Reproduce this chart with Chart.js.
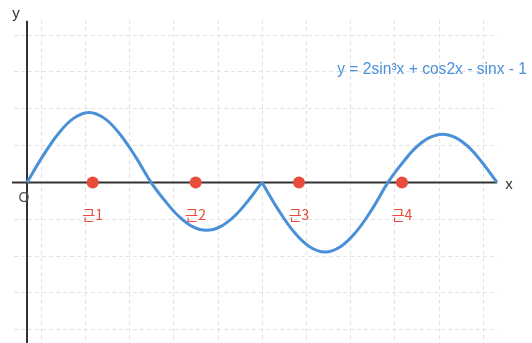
<!DOCTYPE html>
<html><head><meta charset="utf-8">
<script src="https://cdn.jsdelivr.net/npm/chart.js@4/dist/chart.umd.min.js"></script>
<style>html,body{margin:0;padding:0;background:#fff;overflow:hidden}canvas{display:block}</style>
</head><body><canvas id="c" width="532" height="343" style="width:532px;height:343px"></canvas>
<script>
// Curve (x in radians, y in grid units), split at the cusp x = π
const leftX  = [0, 0.207, 0.414, 0.622, 0.829, 1.036, 1.243, 1.450, 1.658, 1.844, 2.029, 2.214, 2.400, 2.586, 2.772, 2.956, 3.142];
const leftY  = [0, 0.70, 1.31, 1.74, 1.90, 1.74, 1.31, 0.70, 0, -0.50, -0.92, -1.20, -1.30, -1.20, -0.92, -0.50, 0];
const rightX = [3.142, 3.352, 3.563, 3.773, 3.984, 4.195, 4.405, 4.616, 4.826, 5.008, 5.190, 5.373, 5.555, 5.737, 5.919, 6.101, 6.283];
const rightY = [0, -0.72, -1.33, -1.74, -1.89, -1.74, -1.33, -0.72, 0, 0.50, 0.93, 1.21, 1.31, 1.21, 0.93, 0.50, 0];
// Roots (red dots)
const rootX = [0.878, 2.255, 3.636, 5.013];
const rootLabels = ['근1', '근2', '근3', '근4'];
const titleText = 'y = 2sin³x + cos2x - sinx - 1';
// Axis extents
const xAxisRange = [-0.2, 6.283];
const yAxisRange = [-4.4, 4.39];
// Grid
const xGridStart = 0.1912, xGridStep = 0.5909, xGridCount = 11;
const yGridTicks = [-4, -3, -2, -1, 0, 1, 2, 3, 4];

const BLUE = '#4a90d9', RED = '#e74c3c', AXIS = '#333333';
const pts = (xs, ys) => xs.map((x, i) => ({x, y: ys[i]}));

const labelPlugin = {
  id: 'labels',
  afterDatasetsDraw(chart) {
    const {ctx, scales: {x: xs, y: ys}} = chart;
    ctx.save();
    const y0 = ys.getPixelForValue(0);
    ctx.textAlign = 'center'; ctx.textBaseline = 'middle';
    ctx.fillStyle = RED;
    ctx.font = '14px "Noto Sans CJK KR", "Liberation Sans", sans-serif';
    rootX.forEach((v, i) => ctx.fillText(rootLabels[i], xs.getPixelForValue(v), y0 + 32));
    ctx.fillStyle = AXIS;
    ctx.font = '15px "Liberation Sans", Arial, sans-serif';
    ctx.fillText('x', xs.getPixelForValue(xAxisRange[1]) + 12, y0 + 2);
    ctx.fillText('y', xs.getPixelForValue(0) - 11, ys.getPixelForValue(yAxisRange[1]) - 7);
    ctx.fillStyle = '#555';
    ctx.font = '14px "Liberation Sans", Arial, sans-serif';
    ctx.fillText('O', xs.getPixelForValue(0) - 3, y0 + 16);
    ctx.fillStyle = BLUE;
    ctx.textAlign = 'right';
    ctx.font = '15.6px "Liberation Sans", Arial, sans-serif';
    ctx.fillText(titleText, chart.width - 5, ys.getPixelForValue(3.07));
    ctx.restore();
  }
};

new Chart(document.getElementById('c'), {
  type: 'scatter',
  data: {
    datasets: [
      {data: rootX.map(x => ({x, y: 0})), showLine: false, pointRadius: 6, pointBackgroundColor: RED, pointBorderWidth: 0, clip: false, order: 1},
      {data: pts(leftX, leftY), showLine: true, borderColor: BLUE, borderWidth: 3, pointRadius: 0, tension: 0.4, clip: false, order: 2},
      {data: pts(rightX, rightY), showLine: true, borderColor: BLUE, borderWidth: 3, pointRadius: 0, tension: 0.4, clip: false, order: 2},
      {data: [{x: xAxisRange[0], y: 0}, {x: xAxisRange[1], y: 0}], showLine: true, borderColor: AXIS, borderWidth: 2, pointRadius: 0, clip: false, order: 3},
      {data: [{x: 0, y: yAxisRange[1]}, {x: 0, y: yAxisRange[0]}], showLine: true, borderColor: AXIS, borderWidth: 2, pointRadius: 0, clip: false, order: 3}
    ]
  },
  options: {
    responsive: false, animation: false, devicePixelRatio: 1,
    layout: {autoPadding: false, padding: {left: 14, right: 34, top: 20, bottom: 0}},
    plugins: {legend: {display: false}, tooltip: {enabled: false}},
    scales: {
      x: {
        type: 'linear', min: -0.1738, max: 6.2968,
        afterBuildTicks: s => { s.ticks = Array.from({length: xGridCount}, (_, k) => ({value: xGridStart + k * xGridStep})); },
        ticks: {display: false},
        grid: {color: '#e3e3e3', lineWidth: 1, drawTicks: false},
        border: {display: false, dash: [4, 3]}
      },
      y: {
        type: 'linear', min: -4.364, max: 4.413,
        afterBuildTicks: s => { s.ticks = yGridTicks.map(v => ({value: v})); },
        ticks: {display: false},
        grid: {color: '#e3e3e3', lineWidth: 1, drawTicks: false},
        border: {display: false, dash: [4, 3]}
      }
    }
  },
  plugins: [labelPlugin]
});
</script>
</body></html>
